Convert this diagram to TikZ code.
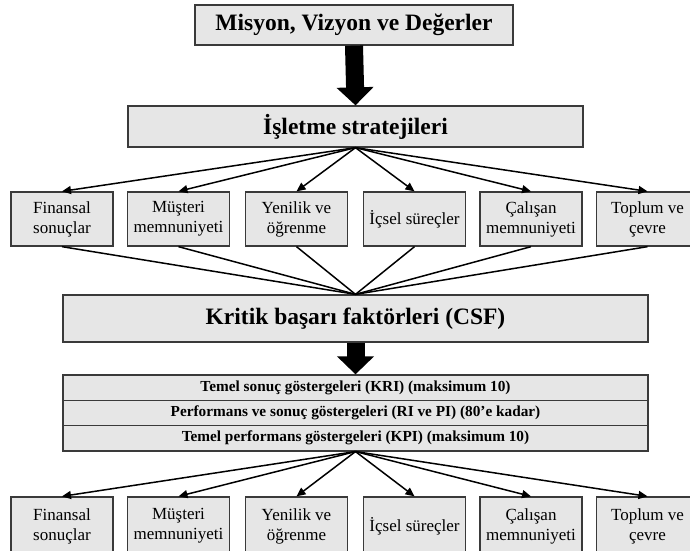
\documentclass[tikz,border=0pt]{standalone}
\usepackage{fontspec}
\setmainfont{Liberation Serif}
\usetikzlibrary{arrows.meta}

\definecolor{boxfill}{HTML}{E6E6E6}
\definecolor{boxline}{HTML}{3A3A3A}

\tikzset{
  panel/.style={draw=boxline, fill=boxfill, line width=1.3pt, inner sep=0pt,
    rectangle, anchor=center},
  headbox/.style={panel, font=\fontsize{23.5}{27}\selectfont\bfseries},
  catbox/.style={panel, minimum width=102pt, minimum height=54pt, align=center,
    font=\fontsize{17}{20}\selectfont},
  lowbox/.style={catbox, minimum height=58pt},
  rowbox/.style={panel, minimum width=585pt, minimum height=25.3pt,
    font=\fontsize{15.3}{18}\selectfont\bfseries},
  bigarrow/.style={line width=18pt, -{Triangle[length=18pt,width=36pt]}},
  thinarrow/.style={line width=1.5pt, -{Triangle[length=9pt,width=8pt]}},
  thinline/.style={line width=1.5pt},
}

\begin{document}
\begin{tikzpicture}[x=1pt, y=-1pt]
  \useasboundingbox (0,0) rectangle (690,550);
  \clip (0,0) rectangle (690,550);
  \fill[white] (0,0) rectangle (690,550);

  % mission and strategy
  \node[headbox, minimum width=318pt, minimum height=40pt] (top) at (354,25)
    {Misyon, Vizyon ve Değerler};
  \node[headbox, minimum width=455pt, minimum height=41pt] (strat) at (355.5,126.5)
    {İşletme stratejileri};

  % perspectives, first row
  \node[catbox] (f1) at (62,219)    {Finansal\\sonuçlar};
  \node[catbox] (f2) at (178.5,219) {Müşteri\\memnuniyeti};
  \node[catbox] (f3) at (296.5,219) {Yenilik ve\\öğrenme};
  \node[catbox] (f4) at (414.5,219) {İçsel süreçler};
  \node[catbox] (f5) at (531,219)   {Çalışan\\memnuniyeti};
  \node[catbox] (f6) at (647.5,219) {Toplum ve\\çevre};

  % critical success factors
  \node[headbox, minimum width=585pt, minimum height=47pt] (csf) at (355.5,318.5)
    {Kritik başarı faktörleri (CSF)};

  % indicator stack
  \node[rowbox] (kri) at (355.5,387.65) {Temel sonuç göstergeleri (KRI) (maksimum 10)};
  \node[rowbox] (rp)  at (355.5,412.95) {Performans ve sonuç göstergeleri (RI ve PI) (80’e kadar)};
  \node[rowbox] (kpi) at (355.5,438.25) {Temel performans göstergeleri (KPI) (maksimum 10)};

  % perspectives, second row (running past the lower edge)
  \node[lowbox] (g1) at (62,526)    {Finansal\\sonuçlar};
  \node[lowbox] (g2) at (178.5,526) {Müşteri\\memnuniyeti};
  \node[lowbox] (g3) at (296.5,526) {Yenilik ve\\öğrenme};
  \node[lowbox] (g4) at (414.5,526) {İçsel süreçler};
  \node[lowbox] (g5) at (531,526)   {Çalışan\\memnuniyeti};
  \node[lowbox] (g6) at (647.5,526) {Toplum ve\\çevre};

  % block arrows
  \draw[bigarrow] (top.south) -- (strat.north);
  \draw[bigarrow] (csf.south) -- (kri.north);

  % fan-out and fan-in connectors
  \foreach \i in {1,...,6} {
    \draw[thinarrow] (strat.south) -- (f\i.north);
    \draw[thinline] (f\i.south) -- (csf.north);
    \draw[thinarrow] (kpi.south) -- (g\i.north);
  }
\end{tikzpicture}
\end{document}
